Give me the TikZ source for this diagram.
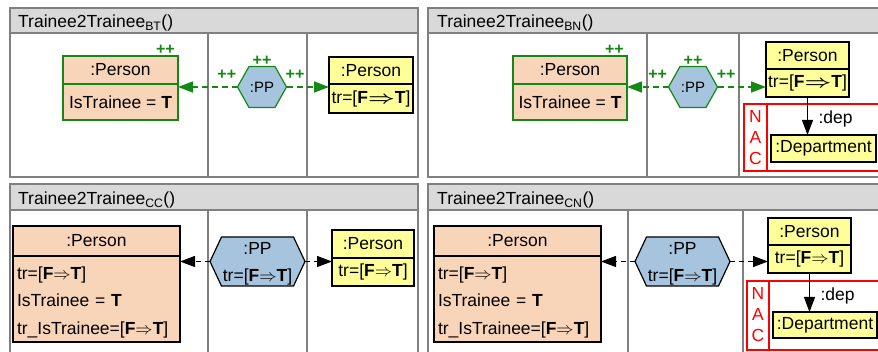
\documentclass[tikz,border=0pt]{standalone}
\usepackage{fontspec}
\setmainfont{Liberation Sans}
\usetikzlibrary{arrows.meta,positioning}

\definecolor{framegray}{RGB}{128,128,128}
\definecolor{headgray}{RGB}{217,217,217}
\definecolor{personfill}{RGB}{248,213,185}
\definecolor{ppfill}{RGB}{166,196,222}
\definecolor{tgtfill}{RGB}{255,255,153}
\definecolor{plusgreen}{RGB}{20,135,20}
\definecolor{nacred}{RGB}{255,0,0}

\tikzset{
  panel/.style={draw=framegray, line width=1.3pt},
  panelhead/.style={panel, fill=headgray},
  title/.style={anchor=base west, inner sep=0pt, font=\fontsize{17.5}{20}\selectfont},
  obj/.style={line width=1.2pt, inner sep=0pt, outer sep=0pt, font=\fontsize{17.5}{27.5}\selectfont},
  newobj/.style={obj, draw=plusgreen, fill=personfill},
  srcobj/.style={obj, draw=black, fill=personfill},
  tgtobj/.style={obj, draw=black, fill=tgtfill},
  newpp/.style={draw=plusgreen, line width=1.2pt, fill=ppfill},
  oldpp/.style={draw=black, line width=1.2pt, fill=ppfill},
  pptext/.style={inner sep=0pt, outer sep=0pt, align=center, font=\fontsize{17.5}{27}\selectfont},
  plusplus/.style={text=plusgreen, inner sep=1pt, font=\bfseries\fontsize{16}{16}\selectfont},
  newedge/.style={draw=plusgreen, line width=1.5pt, dash pattern=on 6pt off 4pt, -{Triangle[length=15pt,width=11pt]}},
  oldedge/.style={draw=black, line width=1.2pt, dash pattern=on 5pt off 4pt, -{Triangle[length=15pt,width=11pt]}},
  linkedge/.style={draw=black, line width=1.2pt, -{Triangle[length=15pt,width=11pt]}},
  nacline/.style={draw=nacred, line width=1.2pt},
  nactext/.style={text=nacred, align=center, inner sep=0pt, font=\fontsize{17.5}{21}\selectfont},
}

\newcommand{\trFT}{tr=[\textbf{F}\scalebox{1.35}[1]{\boldmath$\Rightarrow$}\textbf{T}]}
\newcommand{\trft}{[\textbf{F}$\Rightarrow$\textbf{T}]}

\begin{document}
\begin{tikzpicture}[x=1pt, y=-1pt]
  \useasboundingbox (0,0) rectangle (878,352);
  \clip (0,0) rectangle (878,352);

  % four rule panels
  \draw[panel] (10,8) rectangle (418,177);
  \draw[panelhead] (10,8) rectangle (418,33);
  \draw[panel] (208,33) -- (208,177) (307,33) -- (307,177);
  \node[title] (tBT) at (18,28) {Trainee2Trainee\textsubscript{BT}()};

  \draw[panel] (428,8) rectangle (890,177);
  \draw[panelhead] (428,8) rectangle (890,33);
  \draw[panel] (647,33) -- (647,177) (739,33) -- (739,177);
  \node[title] (tBN) at (437,28) {Trainee2Trainee\textsubscript{BN}()};

  \draw[panel] (10,184) rectangle (418,360);
  \draw[panelhead] (10,184) rectangle (418,210);
  \draw[panel] (208,210) -- (208,360) (307,210) -- (307,360);
  \node[title] (tCC) at (18,205) {Trainee2Trainee\textsubscript{CC}()};

  \draw[panel] (428,184) rectangle (890,360);
  \draw[panelhead] (428,184) rectangle (890,210);
  \draw[panel] (628,210) -- (628,360) (743,210) -- (743,360);
  \node[title] (tCN) at (437,205) {Trainee2Trainee\textsubscript{CN}()};

  % BT
  \node[newobj, minimum width=115pt, minimum height=28pt] (p1h) at (120.5,70) {:Person};
  \node[newobj, minimum width=115pt, minimum height=36pt, below=0pt of p1h] (p1b) {IsTrainee = \textbf{T}};
  \node[plusplus, anchor=south east] at ([xshift=-2pt]p1h.north east) {++};
  \filldraw[newpp, shift={(262,87)}] (-24.5,0) -- (-13,-20.5) -- (13,-20.5) -- (24.5,0) -- (13,20.5) -- (-13,20.5) -- cycle;
  \node[pptext, font=\fontsize{15}{18}\selectfont, minimum width=49pt, minimum height=41pt] (pp1) at (262,87) {:PP};
  \node[plusplus, above=0pt of pp1] {++};
  \node[tgtobj, minimum width=84pt, minimum height=27pt] (y1h) at (371,70.5) {:Person};
  \node[tgtobj, minimum width=84pt, minimum height=29pt, below=0pt of y1h] (y1b) {\trFT};
  \draw[newedge] (pp1.west) -- (pp1.west -| p1b.east) node[plusplus, pos=0.18, above=6pt] {++};
  \draw[newedge] (pp1.east) -- (pp1.east -| y1b.west) node[plusplus, pos=0.2, above=6pt] {++};

  % BN
  \node[newobj, minimum width=114pt, minimum height=28pt] (p2h) at (570,70) {:Person};
  \node[newobj, minimum width=114pt, minimum height=36pt, below=0pt of p2h] (p2b) {IsTrainee = \textbf{T}};
  \node[plusplus, anchor=south east] at ([xshift=-2pt]p2h.north east) {++};
  \filldraw[newpp, shift={(693,87)}] (-24.5,0) -- (-13,-20.5) -- (13,-20.5) -- (24.5,0) -- (13,20.5) -- (-13,20.5) -- cycle;
  \node[pptext, font=\fontsize{15}{18}\selectfont, minimum width=49pt, minimum height=41pt] (pp2) at (693,87) {:PP};
  \node[plusplus, above=0pt of pp2] {++};
  \node[tgtobj, minimum width=83pt, minimum height=27pt] (y2h) at (807.5,55.5) {:Person};
  \node[tgtobj, minimum width=83pt, minimum height=28pt, below=0pt of y2h] (y2b) {\trFT};
  \draw[newedge] (pp2.west) -- (pp2.west -| p2b.east) node[plusplus, pos=0.26, above=6pt] {++};
  \draw[newedge] (pp2.east) -- (pp2.east -| y2b.west) node[plusplus, pos=0.18, above=6pt] {++};
  \draw[nacline] (744,104) rectangle (890,171);
  \draw[nacline] (767,104) -- (767,171);
  \node[nactext] (nac2) at (755.5,137.5) {N\\A\\C};
  \node[tgtobj, minimum width=105pt, minimum height=27pt] (d2) at (823.5,148.5) {:Department};
  \draw[linkedge] (y2b.south) -- (y2b.south |- d2.north) node[obj, midway, right=11pt, yshift=-3pt] {:dep};

  % CC
  \node[srcobj, minimum width=167pt, minimum height=30pt] (p3h) at (96.5,241) {:Person};
  \node[srcobj, minimum width=167pt, minimum height=86pt, text width=159pt, align=left, below=0pt of p3h] (p3b)
    {\rule{0pt}{19pt}tr=\trft\\IsTrainee = \textbf{T}\\tr\_IsTrainee=\trft};
  \filldraw[oldpp, shift={(257.5,261.5)}] (-47.5,0) -- (-36,-24.5) -- (36,-24.5) -- (47.5,0) -- (36,24.5) -- (-36,24.5) -- cycle;
  \node[pptext, minimum width=95pt, minimum height=49pt] (pp3) at (257.5,261.5) {\rule{0pt}{17pt}:PP\\tr=\trft};
  \node[tgtobj, minimum width=82pt, minimum height=28pt] (y3h) at (373,244) {:Person};
  \node[tgtobj, minimum width=82pt, minimum height=28pt, below=0pt of y3h] (y3b) {tr=\trft};
  \draw[oldedge] (pp3.west) -- (pp3.west -| p3b.east);
  \draw[oldedge] (pp3.east) -- (pp3.east -| y3b.west);

  % CN
  \node[srcobj, minimum width=167pt, minimum height=30pt] (p4h) at (517.5,241) {:Person};
  \node[srcobj, minimum width=167pt, minimum height=86pt, text width=159pt, align=left, below=0pt of p4h] (p4b)
    {\rule{0pt}{19pt}tr=\trft\\IsTrainee = \textbf{T}\\tr\_IsTrainee=\trft};
  \filldraw[oldpp, shift={(682.5,261.5)}] (-47.5,0) -- (-36,-24.5) -- (36,-24.5) -- (47.5,0) -- (36,24.5) -- (-36,24.5) -- cycle;
  \node[pptext, minimum width=95pt, minimum height=49pt] (pp4) at (682.5,261.5) {\rule{0pt}{17pt}:PP\\tr=\trft};
  \node[tgtobj, minimum width=83pt, minimum height=27pt] (y4h) at (809.5,231.5) {:Person};
  \node[tgtobj, minimum width=83pt, minimum height=28pt, below=0pt of y4h] (y4b) {tr=\trft};
  \draw[oldedge] (pp4.west) -- (pp4.west -| p4b.east);
  \draw[oldedge] (pp4.east) -- (pp4.east -| y4b.west);
  \draw[nacline] (747,281) rectangle (890,350);
  \draw[nacline] (769,281) -- (769,350);
  \node[nactext] (nac4) at (758,315) {N\\A\\C};
  \node[tgtobj, minimum width=104pt, minimum height=26pt] (d4) at (825,325) {:Department};
  \draw[linkedge] (y4b.south) -- (y4b.south |- d4.north) node[obj, midway, right=11pt, yshift=-3pt] {:dep};
\end{tikzpicture}
\end{document}
